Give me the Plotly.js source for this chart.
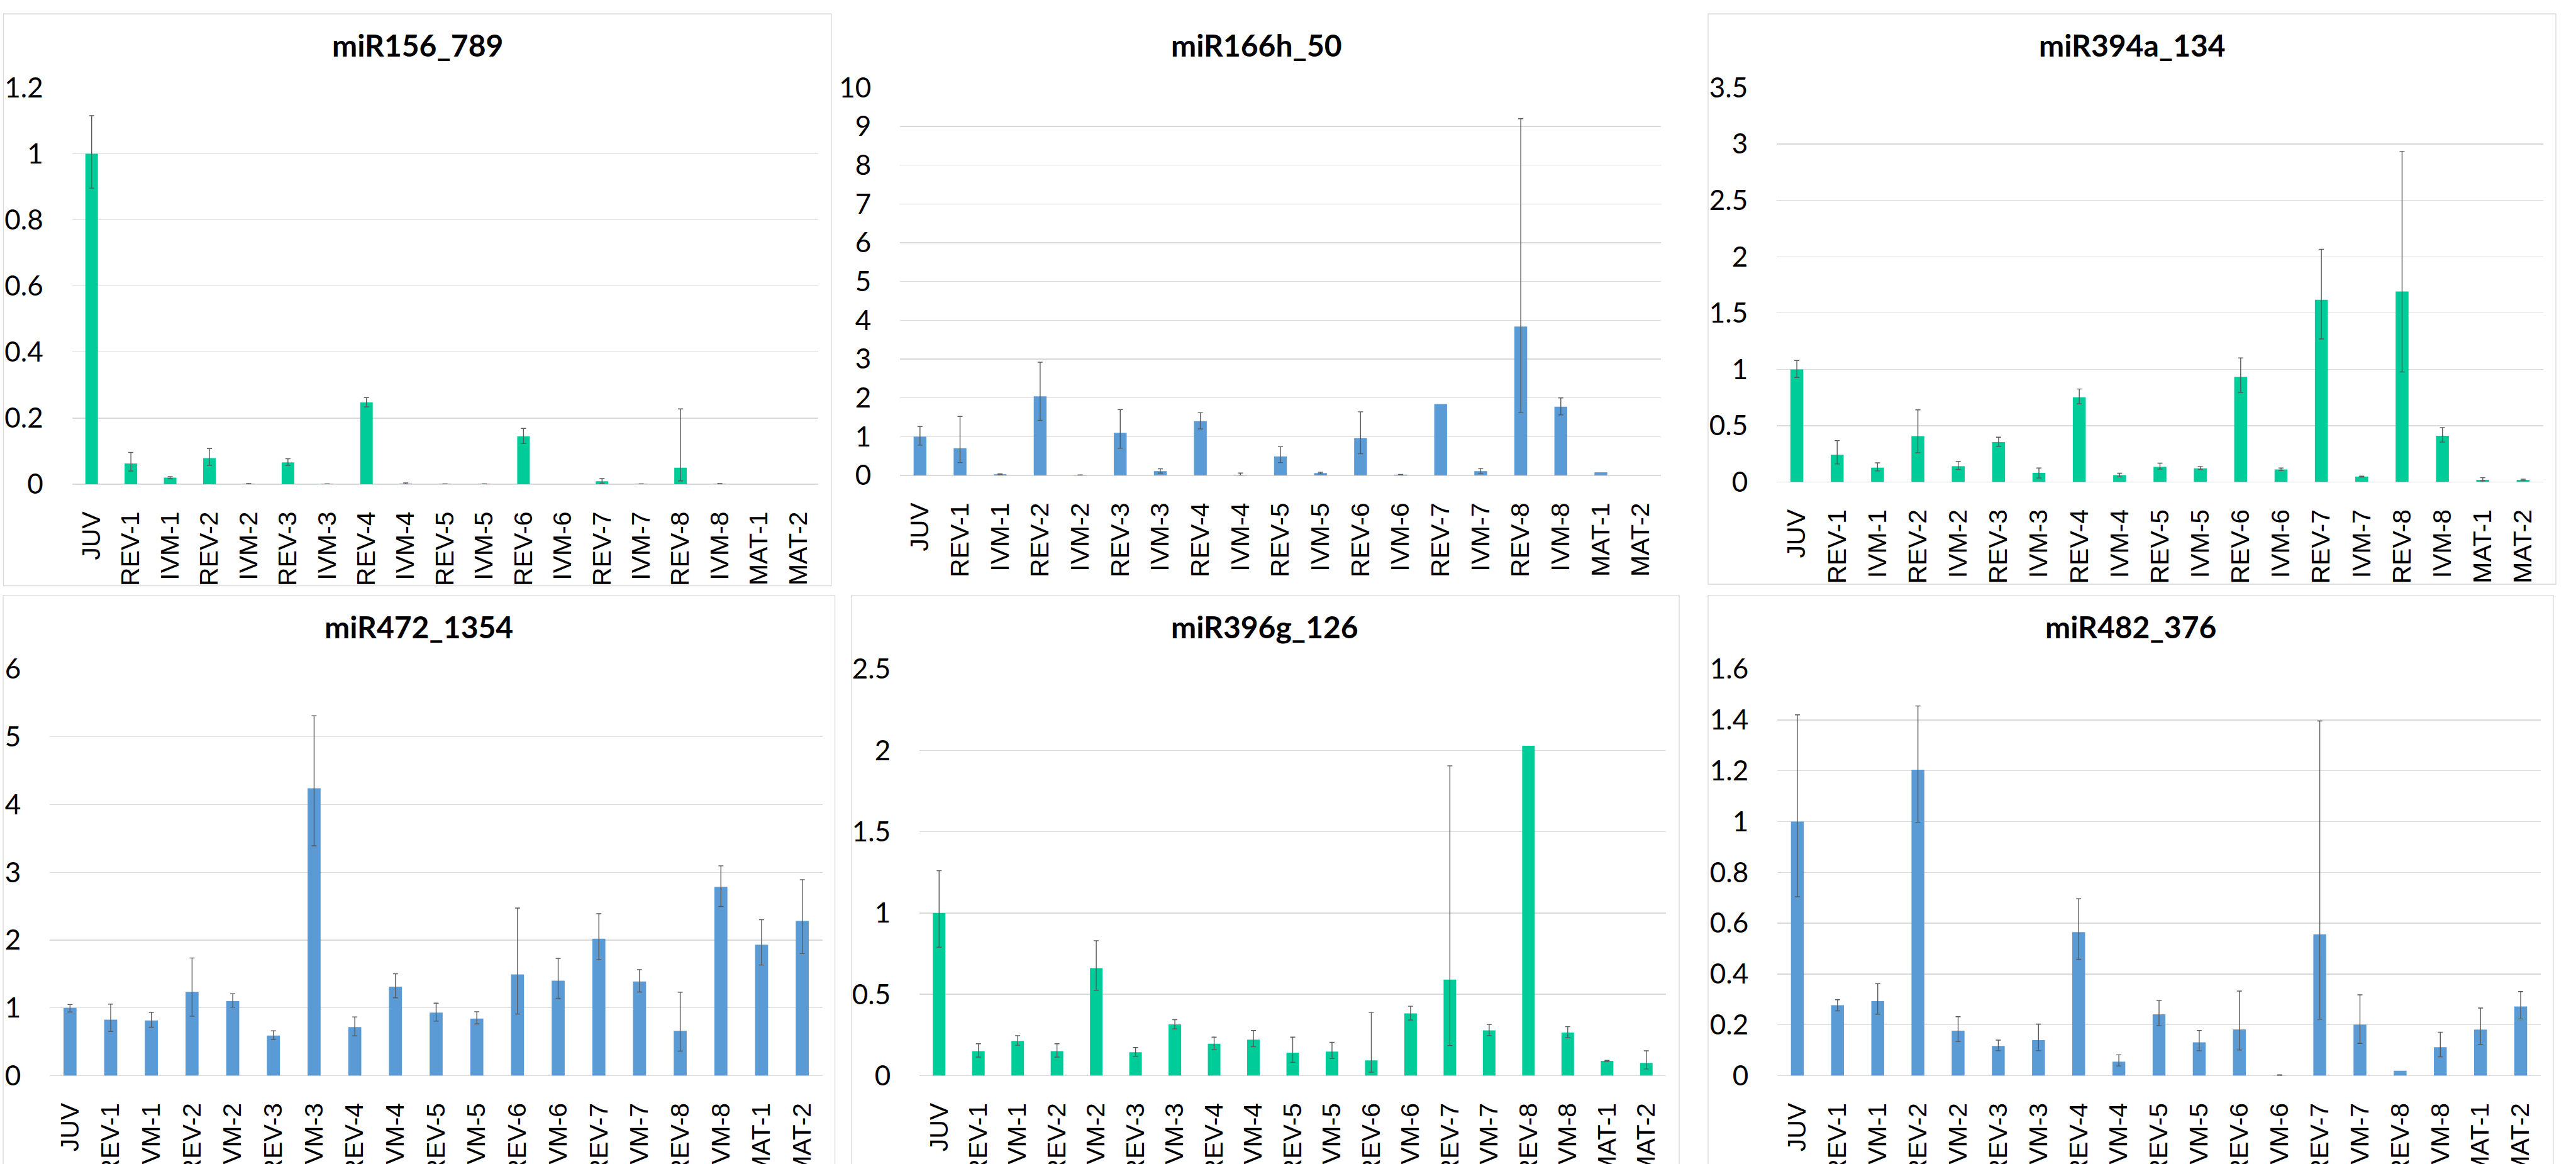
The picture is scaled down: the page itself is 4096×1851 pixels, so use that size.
<!DOCTYPE html>
<html>
<head>
<meta charset="utf-8">
<script src="https://cdn.plot.ly/plotly-3.0.1.min.js"></script>
<style>
  html, body { margin: 0; padding: 0; background: #ffffff; }
  #chart { width: 4096px; height: 1851px; }
</style>
</head>
<body>
<div id="chart"></div>
<script>
// ---------------- DATA ----------------
const categories = ['JUV','REV-1','IVM-1','REV-2','IVM-2','REV-3','IVM-3','REV-4','IVM-4','REV-5','IVM-5','REV-6','IVM-6','REV-7','IVM-7','REV-8','IVM-8','MAT-1','MAT-2'];

const titles = ['miR156_789', 'miR166h_50', 'miR394a_134', 'miR472_1354', 'miR396g_126', 'miR482_376'];

// miR156_789
const mir156Values = [1.000, 0.063, 0.020, 0.079, 0.001, 0.066, 0.001, 0.248, 0.002, 0.001, 0.001, 0.145, 0, 0.009, 0.001, 0.050, 0.001, 0, 0];
const mir156ErrPlus = [0.115, 0.033, 0.003, 0.029, 0.001, 0.011, 0, 0.014, 0.002, 0, 0, 0.024, null, 0.008, 0, 0.178, 0.001, null, null];
const mir156ErrMinus = [0.104, 0.023, 0.003, 0.022, 0.001, 0.009, 0, 0.014, 0.002, 0, 0, 0.022, null, 0.006, 0, 0.040, 0.001, null, null];

// miR166h_50
const mir166Values = [1.00, 0.70, 0.03, 2.04, 0.01, 1.10, 0.11, 1.40, 0.01, 0.49, 0.06, 0.96, 0.02, 1.84, 0.11, 3.84, 1.77, 0.08, 0];
const mir166ErrPlus = [0.26, 0.82, 0.01, 0.88, 0.005, 0.60, 0.06, 0.22, 0.05, 0.25, 0.02, 0.68, 0.005, null, 0.07, 5.36, 0.23, null, null];
const mir166ErrMinus = [0.22, 0.37, 0.01, 0.62, 0.005, 0.40, 0.05, 0.20, 0.01, 0.16, 0.02, 0.40, 0.005, null, 0.06, 2.22, 0.21, null, null];

// miR394a_134
const mir394Values = [1.00, 0.243, 0.128, 0.408, 0.141, 0.355, 0.082, 0.753, 0.062, 0.135, 0.122, 0.934, 0.112, 1.618, 0.049, 1.691, 0.411, 0.020, 0.020];
const mir394ErrPlus = [0.079, 0.125, 0.043, 0.233, 0.043, 0.043, 0.043, 0.073, 0.017, 0.033, 0.016, 0.168, 0.013, 0.448, 0.004, 1.243, 0.073, 0.019, 0.006];
const mir394ErrMinus = [0.072, 0.082, 0.029, 0.148, 0.029, 0.039, 0.046, 0.059, 0.016, 0.020, 0.010, 0.138, 0.010, 0.348, 0.004, 0.714, 0.056, 0.010, 0.004];

// miR472_1354
const mir472Values = [1.00, 0.826, 0.815, 1.237, 1.10, 0.591, 4.242, 0.717, 1.314, 0.930, 0.843, 1.494, 1.401, 2.02, 1.39, 0.662, 2.786, 1.932, 2.282];
const mir472ErrPlus = [0.05, 0.23, 0.12, 0.50, 0.11, 0.07, 1.07, 0.15, 0.19, 0.14, 0.10, 0.98, 0.33, 0.37, 0.175, 0.57, 0.31, 0.37, 0.61];
const mir472ErrMinus = [0.06, 0.175, 0.10, 0.36, 0.09, 0.06, 0.85, 0.13, 0.165, 0.125, 0.08, 0.585, 0.26, 0.31, 0.155, 0.30, 0.29, 0.30, 0.48];

// miR396g_126
const mir396Values = [1.00, 0.151, 0.214, 0.151, 0.661, 0.144, 0.315, 0.196, 0.221, 0.141, 0.148, 0.094, 0.383, 0.591, 0.278, 2.028, 0.265, 0.091, 0.078];
const mir396ErrPlus = [0.26, 0.045, 0.032, 0.045, 0.169, 0.029, 0.029, 0.041, 0.057, 0.096, 0.057, 0.294, 0.044, 1.314, 0.037, null, 0.036, 0.003, 0.075];
const mir396ErrMinus = [0.21, 0.037, 0.027, 0.037, 0.136, 0.025, 0.028, 0.036, 0.043, 0.059, 0.043, 0.073, 0.041, 0.406, 0.032, null, 0.032, 0.004, 0.037];

// miR482_376
const mir482Values = [1.00, 0.277, 0.293, 1.204, 0.177, 0.117, 0.140, 0.565, 0.055, 0.241, 0.131, 0.182, 0.001, 0.556, 0.201, 0.019, 0.112, 0.181, 0.272];
const mir482ErrPlus = [0.42, 0.022, 0.069, 0.251, 0.055, 0.023, 0.063, 0.131, 0.027, 0.054, 0.047, 0.151, 0.002, 0.84, 0.117, null, 0.059, 0.085, 0.059];
const mir482ErrMinus = [0.296, 0.022, 0.051, 0.207, 0.043, 0.019, 0.042, 0.107, 0.017, 0.044, 0.033, 0.081, 0.001, 0.334, 0.074, null, 0.038, 0.058, 0.049];

const yMax = [1.2, 10, 3.5, 6, 2.5, 1.6];
const yStep = [0.2, 1, 0.5, 1, 0.5, 0.2];

// ---------------- LAYOUT / STYLE ----------------
const W = 4096, H = 1851;
const GREEN = '#00CC99', BLUE = '#5B9BD5';

const panels = [
  { values: mir156Values, plus: mir156ErrPlus, minus: mir156ErrMinus, color: GREEN,
    plot: [114.5, 1300.6, 139.4, 770], titleX: 664, titleY: 71 },
  { values: mir166Values, plus: mir166ErrPlus, minus: mir166ErrMinus, color: BLUE,
    plot: [1431, 2641, 139.4, 756], titleX: 1998, titleY: 71 },
  { values: mir394Values, plus: mir394ErrPlus, minus: mir394ErrMinus, color: GREEN,
    plot: [2825, 4044, 139.4, 766.6], titleX: 3390, titleY: 71 },
  { values: mir472Values, plus: mir472ErrPlus, minus: mir472ErrMinus, color: BLUE,
    plot: [79, 1308, 1064, 1710.5], titleX: 666, titleY: 996 },
  { values: mir396Values, plus: mir396ErrPlus, minus: mir396ErrMinus, color: GREEN,
    plot: [1462, 2649, 1064, 1710.5], titleX: 2011, titleY: 996 },
  { values: mir482Values, plus: mir482ErrPlus, minus: mir482ErrMinus, color: BLUE,
    plot: [2826, 4040, 1064, 1710.5], titleX: 3388, titleY: 996 }
];

// panel frames (px): [x0, x1, y0, y1]
const frames = [
  [5.5, 1322, 22, 931.5],
  [2716, 4064, 22, 929],
  [5, 1327.6, 946.7, 1900],
  [1354, 2670, 946.7, 1900],
  [2716, 4060, 946.7, 1900]
];

const toNaN = a => a.map(v => (v === null ? NaN : v));

const data = [];
const layout = {
  width: W, height: H,
  margin: { l: 0, r: 0, t: 0, b: 0 },
  paper_bgcolor: '#ffffff',
  plot_bgcolor: '#ffffff',
  showlegend: false,
  bargap: 0.68,
  annotations: [],
  shapes: []
};

panels.forEach((p, i) => {
  const n = i + 1;
  const xa = 'x' + (n === 1 ? '' : n);
  const ya = 'y' + (n === 1 ? '' : n);
  data.push({
    type: 'bar',
    x: categories,
    y: p.values,
    xaxis: xa, yaxis: ya,
    marker: { color: p.color, line: { width: 0 } },
    error_y: {
      type: 'data', symmetric: false,
      array: toNaN(p.plus), arrayminus: toNaN(p.minus),
      color: '#595959', thickness: 1.4, width: 4
    },
    hoverinfo: 'x+y'
  });
  const [px0, px1, py0, py1] = p.plot;
  layout['xaxis' + (n === 1 ? '' : n)] = {
    domain: [px0 / W, px1 / W],
    anchor: ya,
    type: 'category',
    tickangle: -90,
    ticks: 'outside', ticklen: 26, tickcolor: 'rgba(0,0,0,0)',
    tickfont: { family: 'Liberation Sans, Arial, sans-serif', size: 41, color: '#000000' },
    showgrid: false, showline: false, zeroline: false,
    fixedrange: true
  };
  layout['yaxis' + (n === 1 ? '' : n)] = {
    domain: [1 - py1 / H, 1 - py0 / H],
    anchor: xa,
    range: [0, yMax[i]],
    dtick: yStep[i], tick0: 0,
    showgrid: true, gridcolor: '#d9d9d9', gridwidth: 1.4,
    zeroline: true, zerolinecolor: '#d9d9d9', zerolinewidth: 1.4,
    showline: false,
    ticks: 'outside', ticklen: 36, tickcolor: 'rgba(0,0,0,0)',
    tickfont: { family: 'Lato, Open Sans, sans-serif', size: 44, color: '#000000' },
    fixedrange: true
  };
  layout.annotations.push({
    xref: 'paper', yref: 'paper',
    x: p.titleX / W, y: 1 - p.titleY / H,
    xanchor: 'center', yanchor: 'middle',
    text: '<b>' + titles[i] + '</b>',
    showarrow: false,
    font: { family: 'Lato, Open Sans, sans-serif', size: 48, color: '#000000' }
  });
});

frames.forEach(f => {
  layout.shapes.push({
    type: 'rect', xref: 'paper', yref: 'paper',
    x0: f[0] / W, x1: f[1] / W, y0: 1 - f[3] / H, y1: 1 - f[2] / H,
    line: { color: '#d9d9d9', width: 1.3 },
    fillcolor: 'rgba(0,0,0,0)',
    layer: 'below'
  });
});

Plotly.newPlot('chart', data, layout, { displayModeBar: false, staticPlot: true });
</script>
</body>
</html>
